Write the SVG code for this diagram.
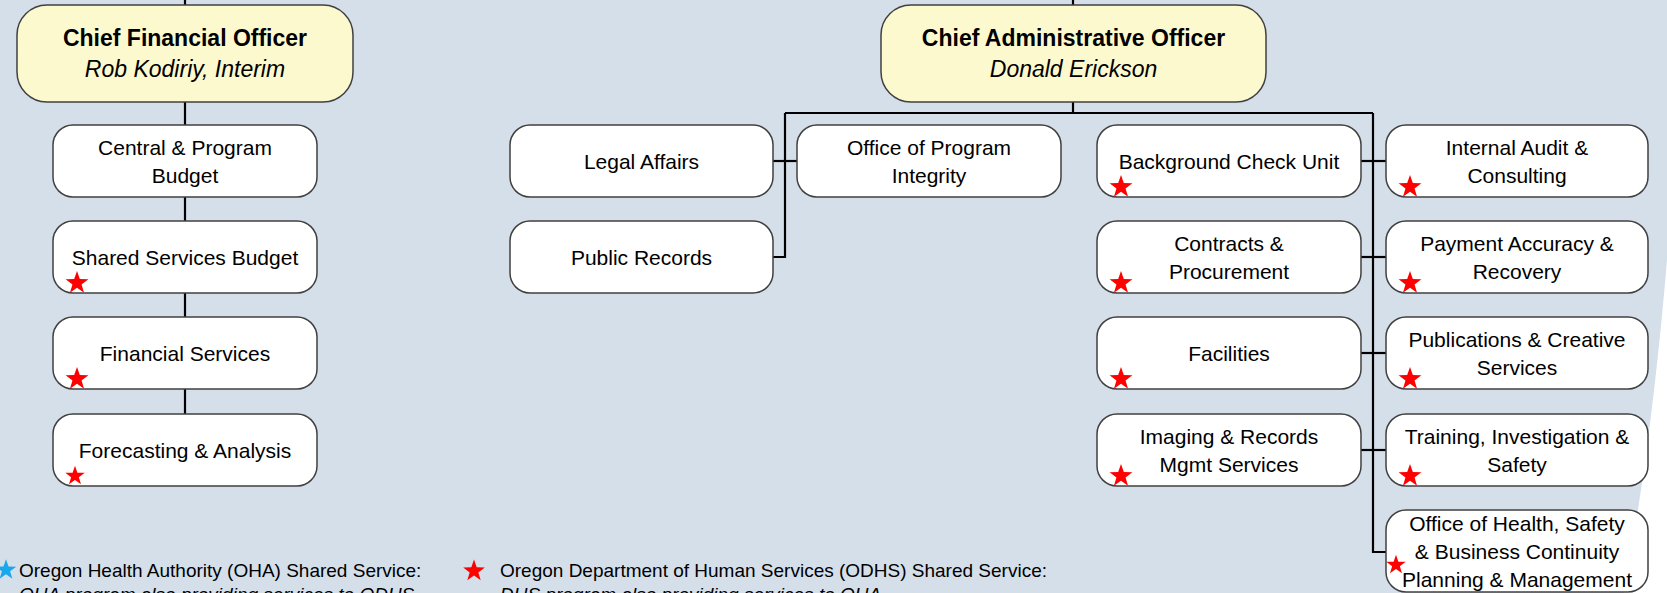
<svg xmlns="http://www.w3.org/2000/svg" xmlns:xlink="http://www.w3.org/1999/xlink" width="1667" height="593" viewBox="0 0 1667 593">
<style>
.box{fill:#FFFFFF;stroke:#404040;stroke-width:1.5}
.top{fill:#FDF9CE;stroke:#404040;stroke-width:1.5}
.t{font-family:"Liberation Sans",Arial,sans-serif;font-size:21px;fill:#000;text-anchor:middle}
.tb{font-family:"Liberation Sans",Arial,sans-serif;font-size:23px;font-weight:bold;fill:#000;text-anchor:middle}
.ti{font-family:"Liberation Sans",Arial,sans-serif;font-size:23px;font-style:italic;fill:#000;text-anchor:middle}
.leg{font-family:"Liberation Sans",Arial,sans-serif;font-size:19px;fill:#000}
.legi{font-family:"Liberation Sans",Arial,sans-serif;font-size:19px;font-style:italic;fill:#000}
.conn{fill:none;stroke:#000;stroke-width:2.2}
.rs{fill:#FF0000}
.bs{fill:#1AA8EC}
</style>
<defs>
<path id="star" d="M0,-12 L2.82,-3.89 L11.41,-3.71 L4.56,1.49 L7.05,9.71 L0,4.8 L-7.05,9.71 L-4.56,1.49 L-11.41,-3.71 L-2.82,-3.89 Z"/>
</defs>
<rect x="0" y="0" width="1667" height="593" fill="#D5DFEA"/>
<path d="M1667,260 Q1652,440 1624,593 L1667,593 Z" fill="#FFFFFF"/>

<g id="connectors">
<path class="conn" d="M185,0 V414"/>
<path class="conn" d="M1073,0 V113"/>
<path class="conn" d="M785,113 H1373"/>
<path class="conn" d="M785,113 V257 H773"/>
<path class="conn" d="M773,161 H797"/>
<path class="conn" d="M1373,113 V552 H1386"/>
<path class="conn" d="M1361,161 H1386"/>
<path class="conn" d="M1361,257 H1386"/>
<path class="conn" d="M1361,353 H1386"/>
<path class="conn" d="M1361,450 H1386"/>
</g>

<g id="cfo">
<rect class="top" x="17" y="5" width="336" height="97" rx="30"/>
<text class="tb" x="185" y="46">Chief Financial Officer</text>
<text class="ti" x="185" y="77">Rob Kodiriy, Interim</text>
</g>
<g id="central-program-budget">
<rect class="box" x="53" y="125" width="264" height="72" rx="20"/>
<text class="t" x="185" y="155">Central &amp; Program</text>
<text class="t" x="185" y="183">Budget</text>
</g>
<g id="shared-services-budget">
<rect class="box" x="53" y="221" width="264" height="72" rx="20"/>
<text class="t" x="185" y="265">Shared Services Budget</text>
<use xlink:href="#star" class="rs" transform="translate(77,283)"/>
</g>
<g id="financial-services">
<rect class="box" x="53" y="317" width="264" height="72" rx="20"/>
<text class="t" x="185" y="361">Financial Services</text>
<use xlink:href="#star" class="rs" transform="translate(77,379)"/>
</g>
<g id="forecasting-analysis">
<rect class="box" x="53" y="414" width="264" height="72" rx="20"/>
<text class="t" x="185" y="458">Forecasting &amp; Analysis</text>
<use xlink:href="#star" class="rs" transform="translate(75,476) scale(0.85)"/>
</g>

<g id="cao">
<rect class="top" x="881" y="5" width="385" height="97" rx="30"/>
<text class="tb" x="1073.5" y="46">Chief Administrative Officer</text>
<text class="ti" x="1073.5" y="77">Donald Erickson</text>
</g>
<g id="legal-affairs">
<rect class="box" x="510" y="125" width="263" height="72" rx="20"/>
<text class="t" x="641.5" y="169">Legal Affairs</text>
</g>
<g id="public-records">
<rect class="box" x="510" y="221" width="263" height="72" rx="20"/>
<text class="t" x="641.5" y="265">Public Records</text>
</g>
<g id="program-integrity">
<rect class="box" x="797" y="125" width="264" height="72" rx="20"/>
<text class="t" x="929" y="155">Office of Program</text>
<text class="t" x="929" y="183">Integrity</text>
</g>

<g id="background-check">
<rect class="box" x="1097" y="125" width="264" height="72" rx="20"/>
<text class="t" x="1229" y="169">Background Check Unit</text>
<use xlink:href="#star" class="rs" transform="translate(1121,187)"/>
</g>
<g id="contracts-procurement">
<rect class="box" x="1097" y="221" width="264" height="72" rx="20"/>
<text class="t" x="1229" y="251">Contracts &amp;</text>
<text class="t" x="1229" y="279">Procurement</text>
<use xlink:href="#star" class="rs" transform="translate(1121,283)"/>
</g>
<g id="facilities">
<rect class="box" x="1097" y="317" width="264" height="72" rx="20"/>
<text class="t" x="1229" y="361">Facilities</text>
<use xlink:href="#star" class="rs" transform="translate(1121,379)"/>
</g>
<g id="imaging-records">
<rect class="box" x="1097" y="414" width="264" height="72" rx="20"/>
<text class="t" x="1229" y="444">Imaging &amp; Records</text>
<text class="t" x="1229" y="472">Mgmt Services</text>
<use xlink:href="#star" class="rs" transform="translate(1121,476)"/>
</g>

<g id="internal-audit">
<rect class="box" x="1386" y="125" width="262" height="72" rx="20"/>
<text class="t" x="1517" y="155">Internal Audit &amp;</text>
<text class="t" x="1517" y="183">Consulting</text>
<use xlink:href="#star" class="rs" transform="translate(1410,187)"/>
</g>
<g id="payment-accuracy">
<rect class="box" x="1386" y="221" width="262" height="72" rx="20"/>
<text class="t" x="1517" y="251">Payment Accuracy &amp;</text>
<text class="t" x="1517" y="279">Recovery</text>
<use xlink:href="#star" class="rs" transform="translate(1410,283)"/>
</g>
<g id="publications">
<rect class="box" x="1386" y="317" width="262" height="72" rx="20"/>
<text class="t" x="1517" y="347">Publications &amp; Creative</text>
<text class="t" x="1517" y="375">Services</text>
<use xlink:href="#star" class="rs" transform="translate(1410,379)"/>
</g>
<g id="training">
<rect class="box" x="1386" y="414" width="262" height="72" rx="20"/>
<text class="t" x="1517" y="444">Training, Investigation &amp;</text>
<text class="t" x="1517" y="472">Safety</text>
<use xlink:href="#star" class="rs" transform="translate(1410,476)"/>
</g>
<g id="health-safety">
<rect class="box" x="1386" y="510" width="262" height="82" rx="20"/>
<text class="t" x="1517" y="531">Office of Health, Safety</text>
<text class="t" x="1517" y="559">&amp; Business Continuity</text>
<text class="t" x="1517" y="587">Planning &amp; Management</text>
<use xlink:href="#star" class="rs" transform="translate(1396,565) scale(0.85)"/>
</g>

<g id="legend">
<use xlink:href="#star" class="bs" transform="translate(6,570) scale(0.9)"/>
<text class="leg" x="19" y="577">Oregon Health Authority (OHA) Shared Service:</text>
<text class="legi" x="19" y="601">OHA program also providing services to ODHS</text>
<use xlink:href="#star" class="rs" transform="translate(474,571) scale(0.95)"/>
<text class="leg" x="500" y="577">Oregon Department of Human Services (ODHS) Shared Service:</text>
<text class="legi" x="500" y="601">DHS program also providing services to OHA</text>
</g>
</svg>
